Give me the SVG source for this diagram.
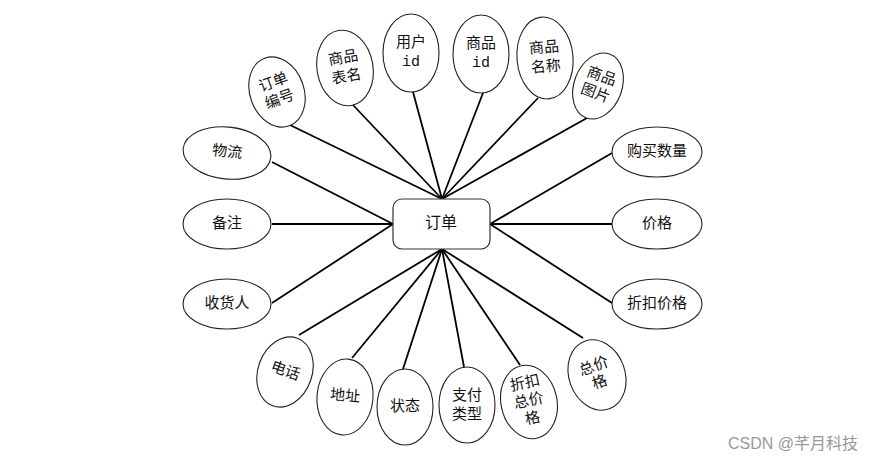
<svg xmlns="http://www.w3.org/2000/svg" width="879" height="460" viewBox="0 0 879 460">
<style>
.e{fill:#fff;stroke:#222;stroke-width:1.1}
.t{font-family:"Liberation Mono","Noto Sans CJK SC",monospace;font-size:15px;fill:#111;text-anchor:middle;dominant-baseline:central}
.c line{stroke:#000;stroke-width:1.8}
</style>
<rect width="879" height="460" fill="#fff"/>
<g id="connectors" class="c">
<line x1="290" y1="125" x2="442" y2="199"/>
<line x1="353" y1="105" x2="442" y2="199"/>
<line x1="413" y1="92" x2="442" y2="199"/>
<line x1="483" y1="93" x2="442" y2="199"/>
<line x1="538" y1="98" x2="442" y2="199"/>
<line x1="587" y1="118" x2="442" y2="199"/>
<line x1="272" y1="162" x2="393" y2="224"/>
<line x1="272" y1="224" x2="393" y2="224"/>
<line x1="272" y1="303" x2="393" y2="224"/>
<line x1="612" y1="153" x2="490" y2="224"/>
<line x1="612" y1="224" x2="490" y2="224"/>
<line x1="612" y1="303" x2="490" y2="224"/>
<line x1="299" y1="335" x2="442" y2="249"/>
<line x1="352" y1="358" x2="442" y2="249"/>
<line x1="403" y1="369" x2="442" y2="249"/>
<line x1="464" y1="367" x2="442" y2="249"/>
<line x1="520" y1="365" x2="442" y2="249"/>
<line x1="583" y1="338" x2="442" y2="249"/>
</g>
<g id="order">
<rect x="393" y="199" width="97" height="50" rx="9" fill="#fff" stroke="#333" stroke-width="1.2"/>
<text class="t" x="441" y="224" style="font-size:16px">订单</text>
</g>
<g id="n-ddbh" transform="translate(277,92) rotate(-20)">
<ellipse class="e" rx="27" ry="36"/>
<text class="t" x="0" y="-9">订单</text><text class="t" x="0" y="9">编号</text>
</g>
<g id="n-spbm" transform="translate(345,68) rotate(-10)">
<ellipse class="e" rx="28" ry="38"/>
<text class="t" x="0" y="-9">商品</text><text class="t" x="0" y="10">表名</text>
</g>
<g id="n-yhid" transform="translate(411,53)">
<ellipse class="e" rx="28" ry="39"/>
<text class="t" x="0" y="-10">用户</text><text class="t" x="0" y="9">id</text>
</g>
<g id="n-spid" transform="translate(481,54)">
<ellipse class="e" rx="28" ry="39"/>
<text class="t" x="0" y="-10">商品</text><text class="t" x="0" y="9">id</text>
</g>
<g id="n-spmc" transform="translate(545,58) rotate(-5)">
<ellipse class="e" rx="28" ry="41"/>
<text class="t" x="0" y="-9">商品</text><text class="t" x="0" y="10">名称</text>
</g>
<g id="n-sptp" transform="translate(598,86) rotate(20)">
<ellipse class="e" rx="24" ry="34"/>
<text class="t" x="0" y="-9">商品</text><text class="t" x="0" y="9">图片</text>
</g>
<g id="n-wl" transform="translate(227,153) rotate(6)">
<ellipse class="e" rx="44" ry="26"/>
<text class="t" x="0" y="0">物流</text>
</g>
<g id="n-bz" transform="translate(227,224)">
<ellipse class="e" rx="44" ry="25"/>
<text class="t" x="0" y="0">备注</text>
</g>
<g id="n-shr" transform="translate(227,304)">
<ellipse class="e" rx="44" ry="25"/>
<text class="t" x="0" y="0">收货人</text>
</g>
<g id="n-gmsl" transform="translate(657,152)">
<ellipse class="e" rx="45" ry="25"/>
<text class="t" x="0" y="0">购买数量</text>
</g>
<g id="n-jg" transform="translate(657,224)">
<ellipse class="e" rx="45" ry="25"/>
<text class="t" x="0" y="0">价格</text>
</g>
<g id="n-zkjg" transform="translate(657,304)">
<ellipse class="e" rx="45" ry="25"/>
<text class="t" x="0" y="0">折扣价格</text>
</g>
<g id="n-dh" transform="translate(285,372) rotate(20)">
<ellipse class="e" rx="27" ry="36"/>
<text class="t" x="0" y="0">电话</text>
</g>
<g id="n-dz" transform="translate(345,397) rotate(5)">
<ellipse class="e" rx="28" ry="38"/>
<text class="t" x="0" y="0">地址</text>
</g>
<g id="n-zt" transform="translate(405,407)">
<ellipse class="e" rx="28" ry="38"/>
<text class="t" x="0" y="0">状态</text>
</g>
<g id="n-zflx" transform="translate(467,405)">
<ellipse class="e" rx="28" ry="38"/>
<text class="t" x="0" y="-9">支付</text><text class="t" x="0" y="10">类型</text>
</g>
<g id="n-zkzjg" transform="translate(529,402) rotate(-12)">
<ellipse class="e" rx="28" ry="37"/>
<text class="t" x="0" y="-18">折扣</text><text class="t" x="0" y="0">总价</text><text class="t" x="0" y="18">格</text>
</g>
<g id="n-zjg" transform="translate(597,375) rotate(-20)">
<ellipse class="e" rx="28" ry="36"/>
<text class="t" x="0" y="-8">总价</text><text class="t" x="0" y="9">格</text>
</g>
<text x="728" y="443" font-family="'Liberation Sans','Noto Sans CJK SC',sans-serif" font-size="16" fill="#999" dominant-baseline="central">CSDN @芊月科技</text>
</svg>
